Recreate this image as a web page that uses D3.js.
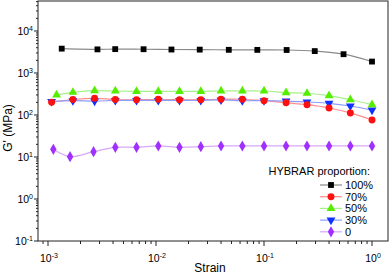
<!DOCTYPE html>
<html>
<head>
<meta charset="utf-8">
<script src="https://d3js.org/d3.v7.min.js"></script>
<style>
  body { margin: 0; background: #fff; }
  text { font-family: "Liberation Sans", Arial, sans-serif; fill: #000; }
</style>
</head>
<body>
<div id="chart"></div>
<script>
var width = 392, height = 274;
var margin = {left: 38, right: 4, top: 1, bottom: 33};

// strain values
var strainBlack = [0.00134, 0.00287, 0.00419, 0.00767, 0.0139, 0.0254, 0.0472, 0.0867, 0.162, 0.295, 0.545, 1.0];
var strainGreen = [0.0012, 0.0017, 0.0027, 0.0042, 0.0066, 0.0105, 0.0165, 0.026, 0.040, 0.063, 0.10, 0.16, 0.25, 0.40, 0.63, 1.0];
var strainRedBlue = [0.00108, 0.0017, 0.0027, 0.0042, 0.0066, 0.0105, 0.0165, 0.026, 0.040, 0.063, 0.10, 0.16, 0.25, 0.40, 0.63, 1.0];
var strainPurple = [0.00112, 0.0016, 0.00264, 0.0042, 0.0066, 0.0105, 0.0165, 0.026, 0.040, 0.063, 0.10, 0.16, 0.25, 0.40, 0.63, 1.0];

// G' values (MPa)
var g100 = [3800, 3650, 3700, 3680, 3620, 3600, 3560, 3550, 3530, 3320, 2800, 1870];
var g70 = [200, 234, 250, 234, 231, 237, 231, 231, 237, 237, 219, 196, 176, 147, 112, 76];
var g50 = [300, 347, 380, 373, 365, 365, 365, 365, 373, 373, 373, 340, 329, 288, 231, 176];
var g30 = [210, 219, 215, 222, 222, 222, 222, 222, 228, 219, 219, 215, 204, 190, 164, 131];
var g0 = [15.2, 10.2, 13.4, 17.0, 17.0, 18.3, 17.0, 17.6, 18.3, 18.3, 18.3, 18.3, 18.3, 18.3, 18.3, 18.3];

var seriesNames = ["100%", "70%", "50%", "30%", "0"];
var xTicks = [0.001, 0.01, 0.1, 1];
var yTicks = [0.1, 1, 10, 100, 1000, 10000];

var series = [
  {name: "100%", xs: strainBlack, ys: g100, marker: d3.symbolSquare, size: 34, fill: "#000", line: "#8a8a8a"},
  {name: "70%", xs: strainRedBlue, ys: g70, marker: d3.symbolCircle, size: 38, fill: "#ff1010", line: "#ff8c8c"},
  {name: "50%", xs: strainGreen, ys: g50, marker: d3.symbolTriangle, size: 34, fill: "#55ee00", line: "#a8f08a"},
  {name: "30%", xs: strainRedBlue, ys: g30, marker: d3.symbolTriangle, size: 34, fill: "#1030ff", line: "#8c9cff", flip: true},
  {name: "0", xs: strainPurple, ys: g0, marker: d3.symbolDiamond, size: 36, fill: "#a030ff", line: "#d8a8f8"}
];

var svg = d3.select("#chart").append("svg").attr("width", width).attr("height", height);

var x = d3.scaleLog().domain([Math.pow(10, -3.0926), Math.pow(10, 0.148)]).range([margin.left, width - margin.right]);
var y = d3.scaleLog().domain([0.1, Math.pow(10, 4.714)]).range([height - margin.bottom, margin.top]);

// frame
svg.append("rect")
  .attr("x", margin.left).attr("y", margin.top)
  .attr("width", width - margin.left - margin.right)
  .attr("height", height - margin.top - margin.bottom)
  .attr("fill", "none").attr("stroke", "#222").attr("stroke-width", 1);

function minorTicks(scale) {
  var d = scale.domain(), out = [];
  for (var e = Math.floor(Math.log10(d[0])); e <= Math.ceil(Math.log10(d[1])); e++) {
    for (var m = 2; m <= 9; m++) {
      var v = m * Math.pow(10, e);
      if (v >= d[0] && v <= d[1]) out.push(v);
    }
  }
  return out;
}

var axisG = svg.append("g").attr("stroke", "#222").attr("stroke-width", 1);
var bottom = height - margin.bottom;

// x axis ticks
xTicks.forEach(function(t) {
  axisG.append("line").attr("x1", x(t)).attr("x2", x(t)).attr("y1", bottom).attr("y2", bottom + 5);
});
minorTicks(x).forEach(function(t) {
  axisG.append("line").attr("x1", x(t)).attr("x2", x(t)).attr("y1", bottom).attr("y2", bottom + 3);
});
// y axis ticks
yTicks.forEach(function(t) {
  axisG.append("line").attr("x1", margin.left - 4).attr("x2", margin.left).attr("y1", y(t)).attr("y2", y(t));
});
minorTicks(y).forEach(function(t) {
  axisG.append("line").attr("x1", margin.left - 2).attr("x2", margin.left).attr("y1", y(t)).attr("y2", y(t));
});

// tick labels with superscript exponents
xTicks.forEach(function(t) {
  var tx = svg.append("text").attr("x", x(t) + 1).attr("y", bottom + 21)
    .attr("text-anchor", "middle").style("font-size", "10.5px");
  tx.append("tspan").text("10");
  tx.append("tspan").attr("dy", -4).style("font-size", "7px").text(String(Math.round(Math.log10(t))));
});
yTicks.forEach(function(t) {
  var tx = svg.append("text").attr("x", margin.left - 5).attr("y", y(t) + 4)
    .attr("text-anchor", "end").style("font-size", "10.5px");
  tx.append("tspan").text("10");
  tx.append("tspan").attr("dy", -4).style("font-size", "7px").text(String(Math.round(Math.log10(t))));
});

// axis titles
svg.append("text").attr("x", 210).attr("y", 272).attr("text-anchor", "middle")
  .style("font-size", "12px").text("Strain");
svg.append("text").attr("transform", "translate(12,128) rotate(-90)").attr("text-anchor", "middle")
  .style("font-size", "12px").text("G' (MPa)");

// lines and markers
var line = d3.line().curve(d3.curveCatmullRom.alpha(0.5))
  .x(function(d) { return x(d[0]); })
  .y(function(d) { return y(d[1]); });

series.forEach(function(s) {
  var pts = s.xs.map(function(v, i) { return [v, s.ys[i]]; });
  svg.append("path").datum(pts).attr("d", line)
    .attr("fill", "none").attr("stroke", s.line).attr("stroke-width", 1.2);
});
series.slice().reverse().forEach(function(s) {
  var pts = s.xs.map(function(v, i) { return [v, s.ys[i]]; });
  svg.append("g").selectAll("path").data(pts).enter().append("path")
    .attr("d", d3.symbol().type(s.marker).size(s.size))
    .attr("transform", function(d) {
      return "translate(" + x(d[0]) + "," + y(d[1]) + ")" + (s.flip ? " rotate(180)" : "");
    })
    .attr("fill", s.fill);
});

// legend
svg.append("text").attr("x", 370).attr("y", 175).attr("text-anchor", "end")
  .style("font-size", "11px").text("HYBRAR proportion:");
series.forEach(function(s, i) {
  var ly = 185 + i * 11.7;
  var g = svg.append("g");
  g.append("line").attr("x1", 320).attr("x2", 342).attr("y1", ly).attr("y2", ly)
    .attr("stroke", s.line).attr("stroke-width", 1.2);
  g.append("path").attr("d", d3.symbol().type(s.marker).size(s.size))
    .attr("transform", "translate(331," + ly + ")" + (s.flip ? " rotate(180)" : ""))
    .attr("fill", s.fill);
  g.append("text").attr("x", 345).attr("y", ly + 4).style("font-size", "11px").text(seriesNames[i]);
});
</script>
</body>
</html>
